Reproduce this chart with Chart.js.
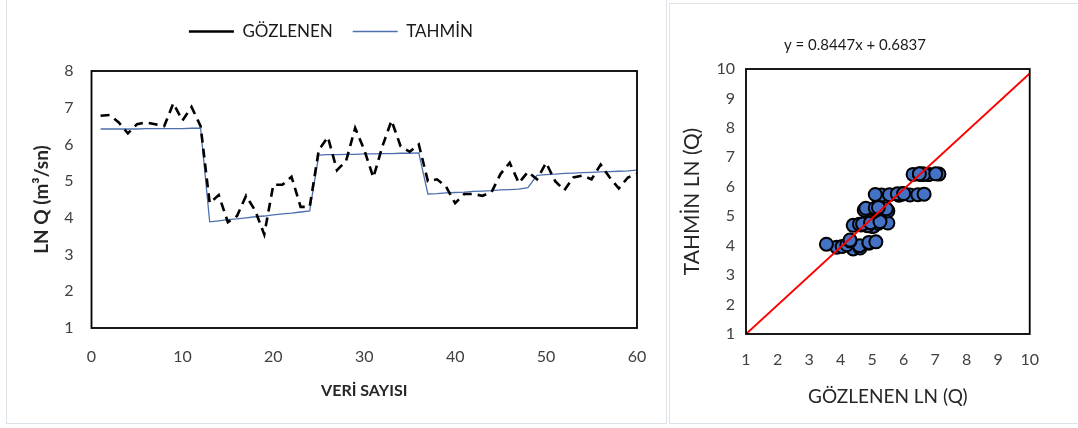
<!DOCTYPE html>
<html>
<head>
<meta charset="utf-8">
<script src="https://cdn.jsdelivr.net/npm/chart.js@4.4.1/dist/chart.umd.min.js"></script>
<style>
  body { margin: 0; background: #fff; width: 1078px; height: 428px; position: relative; overflow: hidden; }
  .panel { position: absolute; border: 1px solid #dde3ea; box-sizing: border-box; background: #fff; }
  #solPanel { left: 6px; top: -1px; width: 661px; height: 425px; }
  #sagPanel { left: 669px; top: 3px; width: 412px; height: 421px; }
  #solGrafik { position: absolute; left: -12px; top: 0; }
  #sagGrafik { position: absolute; left: -15px; top: 0; }
</style>
</head>
<body>
<div class="panel" id="solPanel"><canvas id="solGrafik" width="672" height="424"></canvas></div>
<div class="panel" id="sagPanel"><canvas id="sagGrafik" width="400" height="419"></canvas></div>
<script>
// veri sayisi (x ekseni)
const veriNo = [1, 2, 3, 4, 5, 6, 7, 8, 9, 10, 11, 12, 13, 14, 15, 16, 17, 18, 19, 20,
  21, 22, 23, 24, 25, 26, 27, 28, 29, 30, 31, 32, 33, 34, 35, 36, 37, 38, 39, 40,
  41, 42, 43, 44, 45, 46, 47, 48, 49, 50, 51, 52, 53, 54, 55, 56, 57, 58, 59, 60];

// gozlenen LN Q
const gozlenen = [6.78, 6.80, 6.60, 6.30, 6.55, 6.60, 6.55, 6.50, 7.12, 6.65, 7.02, 6.50,
  4.40, 4.62, 3.88, 4.05, 4.60, 4.20, 3.55, 4.90, 4.90, 5.12, 4.30, 4.30,
  5.85, 6.20, 5.30, 5.55, 6.45, 5.85, 5.10, 5.95, 6.65, 5.95, 5.80, 6.00,
  5.00, 5.05, 4.85, 4.40, 4.65, 4.65, 4.60, 4.70, 5.20, 5.50, 4.95, 5.25,
  5.05, 5.50, 5.00, 4.75, 5.10, 5.15, 5.05, 5.45, 5.10, 4.80, 5.10, 5.20];

// tahmin LN Q
const tahmin = [6.42, 6.42, 6.42, 6.42, 6.42, 6.43, 6.43, 6.43, 6.43, 6.43, 6.44, 6.44,
  3.89, 3.92, 3.95, 3.97, 4.00, 4.03, 4.05, 4.08, 4.11, 4.13, 4.16, 4.19,
  5.71, 5.72, 5.72, 5.73, 5.73, 5.74, 5.74, 5.75, 5.75, 5.76, 5.76, 5.77,
  4.65, 4.66, 4.68, 4.69, 4.70, 4.72, 4.73, 4.74, 4.76, 4.77, 4.78, 4.82,
  5.16, 5.18, 5.19, 5.21, 5.22, 5.23, 5.24, 5.25, 5.26, 5.27, 5.28, 5.30];

// kirmizi cizgi uclari (sag grafik)
const cizgiX = [1, 10];
const cizgiY = [1, 9.85];

const denklem = 'y = 0.8447x + 0.6837';

const yazi = "Lato, 'Open Sans', sans-serif";
const tikRenk = '#404040';
const baslikRenk = '#262626';

// grafik alanina siyah cerceve
const cerceve = {
  id: 'cerceve',
  afterDatasetsDraw(chart) {
    const a = chart.chartArea;
    const ctx = chart.ctx;
    ctx.save();
    ctx.strokeStyle = '#000';
    ctx.lineWidth = 1.8;
    ctx.strokeRect(a.left, a.top, a.right - a.left, a.bottom - a.top);
    ctx.restore();
  }
};

// legend altina bosluk
const legendBosluk = {
  id: 'legendBosluk',
  beforeInit(chart) {
    const fit = chart.legend.fit;
    chart.legend.fit = function () {
      fit.bind(chart.legend)();
      this.height += 21;
    };
  }
};

// sol grafik: zaman serisi
new Chart(document.getElementById('solGrafik').getContext('2d'), {
  type: 'scatter',
  data: {
    datasets: [{
      label: 'GÖZLENEN',
      data: veriNo.map((x, i) => ({ x: x, y: gozlenen[i] })),
      showLine: true,
      borderColor: '#000',
      backgroundColor: '#000',
      borderWidth: 2.6,
      borderDash: [9, 6],
      pointRadius: 0,
      pointStyle: 'line'
    }, {
      label: 'TAHMİN',
      data: veriNo.map((x, i) => ({ x: x, y: tahmin[i] })),
      showLine: true,
      borderColor: '#4e6fae',
      backgroundColor: '#4e6fae',
      borderWidth: 1.3,
      pointRadius: 0,
      pointStyle: 'line'
    }]
  },
  options: {
    responsive: false,
    animation: false,
    layout: { padding: { top: 3, left: 30, right: 30, bottom: 0 } },
    plugins: {
      legend: {
        position: 'top',
        labels: {
          usePointStyle: true,
          pointStyleWidth: 45,
          padding: 20,
          color: '#1a1a1a',
          font: { family: yazi, size: 17 }
        }
      },
      tooltip: { enabled: false }
    },
    scales: {
      x: {
        type: 'linear',
        min: 0,
        max: 60,
        ticks: { stepSize: 10, padding: 19, color: tikRenk, font: { family: yazi, size: 16 } },
        grid: { display: false, drawTicks: false },
        border: { display: false },
        title: { display: true, text: 'VERİ SAYISI', color: baslikRenk, font: { family: yazi, size: 16, weight: 'bold' }, padding: { top: 0, bottom: 24 } },
        afterFit(scale) { scale.height = 96; }
      },
      y: {
        min: 1,
        max: 8,
        ticks: { stepSize: 1, padding: 18, color: tikRenk, font: { family: yazi, size: 16 } },
        grid: { display: false, drawTicks: false },
        border: { display: false },
        title: { display: true, text: 'LN Q (m³/sn)', color: baslikRenk, font: { family: yazi, size: 19, weight: 'bold' }, padding: { top: 5, bottom: 0 } },
        afterFit(scale) { scale.width = 66.5; }
      }
    }
  },
  plugins: [cerceve, legendBosluk]
});

// sag grafik: gozlenen - tahmin
new Chart(document.getElementById('sagGrafik').getContext('2d'), {
  type: 'scatter',
  data: {
    datasets: [{
      data: cizgiX.map((x, i) => ({ x: x, y: cizgiY[i] })),
      showLine: true,
      borderColor: '#ff0000',
      borderWidth: 2,
      pointRadius: 0
    }, {
      data: gozlenen.map((g, i) => ({ x: g, y: tahmin[i] })),
      backgroundColor: '#4472c4',
      borderColor: '#000',
      borderWidth: 2,
      pointRadius: 6.5
    }]
  },
  options: {
    responsive: false,
    animation: false,
    layout: { padding: { top: 0, left: 25, right: 25, bottom: 0 } },
    plugins: {
      legend: { display: false },
      tooltip: { enabled: false },
      title: {
        display: true,
        text: denklem,
        color: '#1a1a1a',
        font: { family: yazi, size: 15, weight: 'normal' },
        padding: { top: 32, bottom: 15 }
      }
    },
    scales: {
      x: {
        type: 'linear',
        min: 1,
        max: 10,
        ticks: { stepSize: 1, padding: 16, color: tikRenk, font: { family: yazi, size: 16 } },
        grid: { display: false, drawTicks: false },
        border: { display: false },
        title: { display: true, text: 'GÖZLENEN LN (Q)', color: baslikRenk, font: { family: yazi, size: 19 }, padding: { top: 0, bottom: 15 } },
        afterFit(scale) { scale.height = 89; }
      },
      y: {
        min: 1,
        max: 10,
        ticks: { stepSize: 1, padding: 11, color: tikRenk, font: { family: yazi, size: 16 } },
        grid: { display: false, drawTicks: false },
        border: { display: false },
        title: { display: true, text: 'TAHMİN LN (Q)', color: baslikRenk, font: { family: yazi, size: 21 }, padding: { top: 0, bottom: 0 } },
        afterFit(scale) { scale.width = 66; }
      }
    }
  },
  plugins: [cerceve]
});
</script>
</body>
</html>
